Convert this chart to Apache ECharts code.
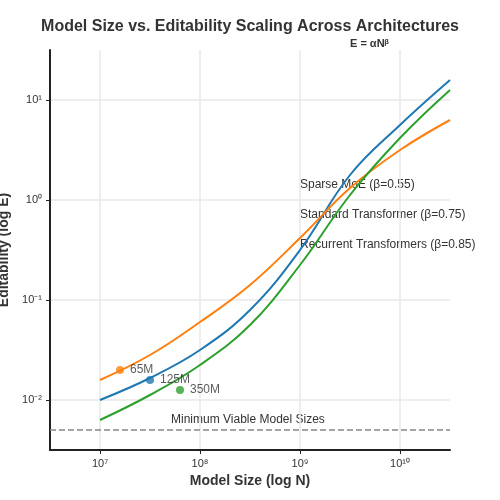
<!DOCTYPE html><html><head><meta charset="utf-8"><script src="https://cdn.jsdelivr.net/npm/echarts@6/dist/echarts.min.js"></script></head><body style="margin:0"><div id="c" style="width:500px;height:500px"></div><script>
const logN=[7,7.5,8,8.5,9,9.5,10,10.5];
const standard=[-2.0,-1.78,-1.5,-1.1,-0.5,0.25,0.75,1.2];
const sparse=[-1.8,-1.55,-1.22,-0.85,-0.38,0.12,0.5,0.8];
const recurrent=[-2.2,-1.95,-1.65,-1.25,-0.65,0.05,0.62,1.1];
const points=[{name:'65M',x:7.2,y:-1.7,c:'#ff7f0e'},{name:'125M',x:7.5,y:-1.8,c:'#1f77b4'},{name:'350M',x:7.8,y:-1.9,c:'#2ca02c'}];
const xTicks=[7,8,9,10], yTicks=[-2,-1,0,1];
const sup={'-':'⁻','0':'⁰','1':'¹','2':'²','3':'³','4':'⁴','5':'⁵','6':'⁶','7':'⁷','8':'⁸','9':'⁹'};
const fmt=v=>'10'+String(v).split('').map(ch=>sup[ch]).join('');
const ch=echarts.init(document.getElementById('c'));
const line=(d,c)=>({type:'line',smooth:0.4,showSymbol:false,data:logN.map((x,i)=>[x,d[i]]),lineStyle:{color:c,width:2},itemStyle:{color:c},z:3});
ch.setOption({
 animation:false,
 title:{text:'Model Size vs. Editability Scaling Across Architectures',left:'center',top:14,textStyle:{fontSize:16,fontWeight:'bold',color:'#333',fontFamily:'Liberation Sans'}},
 grid:{left:50,right:50,top:50,bottom:50,containLabel:false,outerBoundsMode:'none'},
 xAxis:{type:'value',min:6.5,max:10.5,name:'Model Size (log N)',nameLocation:'middle',nameGap:20,nameTextStyle:{fontSize:14,fontWeight:'bold',color:'#333'},
  axisLine:{onZero:false,lineStyle:{color:'#222',width:2}},axisTick:{show:true,customValues:xTicks,length:4,lineStyle:{color:'#222'}},
  axisLabel:{customValues:xTicks,formatter:fmt,color:'#333',fontSize:11},splitLine:{show:true,lineStyle:{color:'#e8e8e8',width:1.5}}},
 yAxis:{type:'value',min:-2.5,max:1.5,name:'Editability (log E)',nameLocation:'middle',nameGap:32,nameTextStyle:{fontSize:14,fontWeight:'bold',color:'#333'},
  axisLine:{show:true,onZero:false,lineStyle:{color:'#222',width:2}},axisTick:{show:true,customValues:yTicks,length:4,lineStyle:{color:'#222'}},
  axisLabel:{customValues:yTicks,formatter:fmt,color:'#333',fontSize:11},splitLine:{show:true,lineStyle:{color:'#e8e8e8',width:1.5}}},
 series:[line(standard,'#1f77b4'),line(sparse,'#ff7f0e'),line(recurrent,'#2ca02c'),
  {type:'scatter',symbolSize:8,z:4,data:points.map(p=>({value:[p.x,p.y],name:p.name,itemStyle:{color:p.c}})),
   label:{show:true,position:'right',distance:6,formatter:'{b}',color:'#333',fontSize:12}},
  {type:'line',data:[],markLine:{symbol:'none',silent:true,data:[{yAxis:-2.3}],lineStyle:{color:'#888',type:'dashed',width:1.5},label:{show:false}}}],
 graphic:[
  {type:'text',left:350,top:38,style:{text:'E = αNᵝ',fontSize:11,fontWeight:'bold',fill:'#333'}},
  {type:'text',left:300,top:179,style:{text:'Sparse MoE (β=0.55)',fontSize:12,fill:'#333'}},
  {type:'text',left:300,top:209,style:{text:'Standard Transformer (β=0.75)',fontSize:12,fill:'#333'}},
  {type:'text',left:300,top:239,style:{text:'Recurrent Transformers (β=0.85)',fontSize:12,fill:'#333'}},
  {type:'text',left:171,top:414,style:{text:'Minimum Viable Model Sizes',fontSize:12,fill:'#333'}}
 ]
});
</script></body></html>
